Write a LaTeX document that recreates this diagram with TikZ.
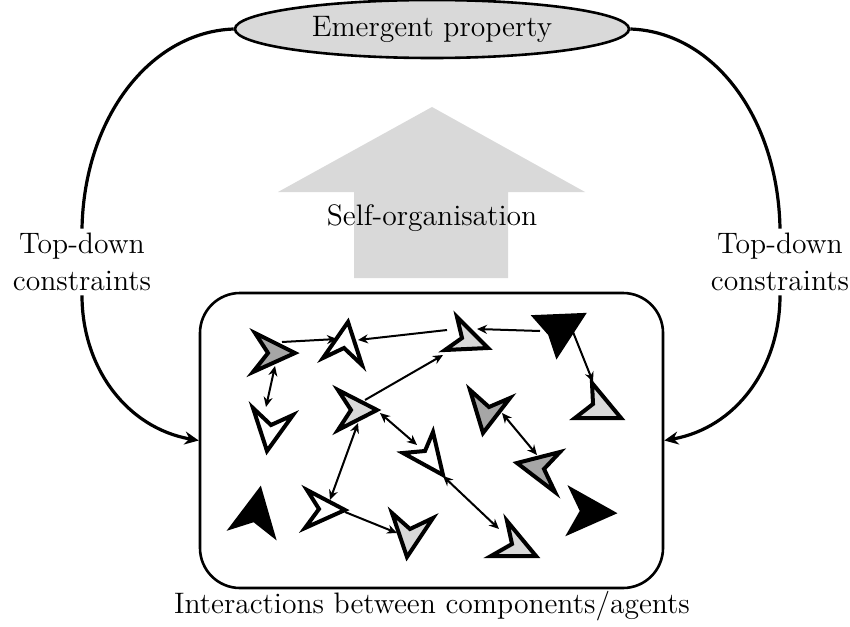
\documentclass[tikz,border=0pt]{standalone}
\usetikzlibrary{arrows.meta,shapes.geometric}
\definecolor{panelgray}{HTML}{D9D9D9}
\definecolor{agdark}{HTML}{A6A6A6}
\definecolor{aglight}{HTML}{D9D9D9}
\begin{document}
\begin{tikzpicture}[x=0.5pt,y=-0.5pt,
  lbl/.style={font=\fontsize{14.8}{18.5}\selectfont, align=center, inner sep=2pt},
  bigcurve/.style={line width=1.6pt, -{Stealth[length=7pt,width=6.5pt]}},
  plaincurve/.style={line width=1.6pt},
  agent/.style={draw=black, line width=2pt, line join=miter},
  link/.style={line width=1pt, -{Stealth[length=5pt,width=4.5pt]}},
  dlink/.style={line width=1pt, {Stealth[length=5pt,width=4.5pt]}-{Stealth[length=5pt,width=4.5pt]}}
]
\useasboundingbox (0,0) rectangle (850,626);

% upward self-organisation arrow
\fill[panelgray] (354,278) -- (354,192) -- (278,192) -- (432,107) -- (585,192) -- (508,192) -- (508,278) -- cycle;
\node[lbl] (selforg) at (432,218) {Self-organisation};

% emergent level and component level
\node[draw, line width=1.3pt, fill=panelgray, ellipse, minimum width=197pt, minimum height=29pt, lbl] (emerg) at (432,29) {Emergent property};
\node[draw, line width=1.3pt, rounded corners=20pt, minimum width=231.5pt, minimum height=147.5pt] (box) at (431.5,440.5) {};
\node[lbl] (inter) at (432,606) {Interactions between components/agents};

% top-down feedback
\node[lbl] (tdl) at (82,262) {Top-down\\constraints};
\node[lbl] (tdr) at (780,262) {Top-down\\constraints};
\draw[plaincurve] (emerg.west) .. controls (150,32) and (84,118) .. (tdl.north);
\draw[bigcurve] (tdl.south) to[out=-90,in=170] (box.west);
\draw[plaincurve] (emerg.east) .. controls (714,32) and (778,118) .. (tdr.north);
\draw[bigcurve] (tdr.south) to[out=-90,in=10] (box.east);

% agents: tip, back corner, notch, back corner
\filldraw[agent, fill=agdark]  (295,353) -- (255,333) -- (268,353) -- (253,372) -- cycle;
\filldraw[agent, fill=white]   (348,322) -- (323,358) -- (344,348) -- (362,365) -- cycle;
\filldraw[agent, fill=white]   (267,451) -- (253,408) -- (271,425) -- (293,415) -- cycle;
\filldraw[agent, fill=aglight] (377,410) -- (338,390) -- (351,410) -- (338,430) -- cycle;
\filldraw[agent, fill=white]   (443,475) -- (433,432) -- (425,451) -- (403,453) -- cycle;
\filldraw[agent, fill=aglight] (488,348) -- (457,317) -- (462,338) -- (445,350) -- cycle;
\filldraw[agent, fill=black]   (583,315) -- (535,317) -- (550,334) -- (557,355) -- cycle;
\filldraw[agent, fill=aglight] (621,418) -- (592,383) -- (593,404) -- (575,418) -- cycle;
\filldraw[agent, fill=agdark]  (483,433) -- (470,390) -- (489,407) -- (510,398) -- cycle;
\filldraw[agent, fill=agdark]  (517,463) -- (560,452) -- (544,469) -- (555,492) -- cycle;
\filldraw[agent, fill=black]   (613,513) -- (572,490) -- (582,511) -- (570,532) -- cycle;
\filldraw[agent, fill=aglight] (536,556) -- (507,521) -- (512,544) -- (491,556) -- cycle;
\filldraw[agent, fill=black]   (260,490) -- (232,527) -- (254,520) -- (273,535) -- cycle;
\filldraw[agent, fill=white]   (345,510) -- (307,490) -- (319,509) -- (305,528) -- cycle;
\filldraw[agent, fill=aglight] (407,557) -- (392,513) -- (410,529) -- (433,518) -- cycle;

% connector ports
\coordinate (p1a) at (282,342);  \coordinate (p1b) at (337,339);
\coordinate (p2a) at (447,330);  \coordinate (p2b) at (358,340);
\coordinate (p3a) at (540,331);  \coordinate (p3b) at (477,329);
\coordinate (p4a) at (275,366);  \coordinate (p4b) at (266,407);
\coordinate (p5a) at (365,400);  \coordinate (p5b) at (443,355);
\coordinate (p6a) at (380,413);  \coordinate (p6b) at (417,445);
\coordinate (p7a) at (358,423);  \coordinate (p7b) at (330,500);
\coordinate (p8a) at (345,512);  \coordinate (p8b) at (397,533);
\coordinate (p9a) at (573,332);  \coordinate (p9b) at (593,382);
\coordinate (p10a) at (502,413); \coordinate (p10b) at (537,455);
\coordinate (p11a) at (443,476); \coordinate (p11b) at (499,529);

% interactions
\draw[link]  (p1a) -- (p1b);
\draw[link]  (p2a) -- (p2b);
\draw[link]  (p3a) -- (p3b);
\draw[dlink] (p4a) -- (p4b);
\draw[link]  (p5a) -- (p5b);
\draw[dlink] (p6a) -- (p6b);
\draw[dlink] (p7a) -- (p7b);
\draw[link]  (p8a) -- (p8b);
\draw[link]  (p9a) -- (p9b);
\draw[dlink] (p10a) -- (p10b);
\draw[dlink] (p11a) -- (p11b);
\end{tikzpicture}
\end{document}
